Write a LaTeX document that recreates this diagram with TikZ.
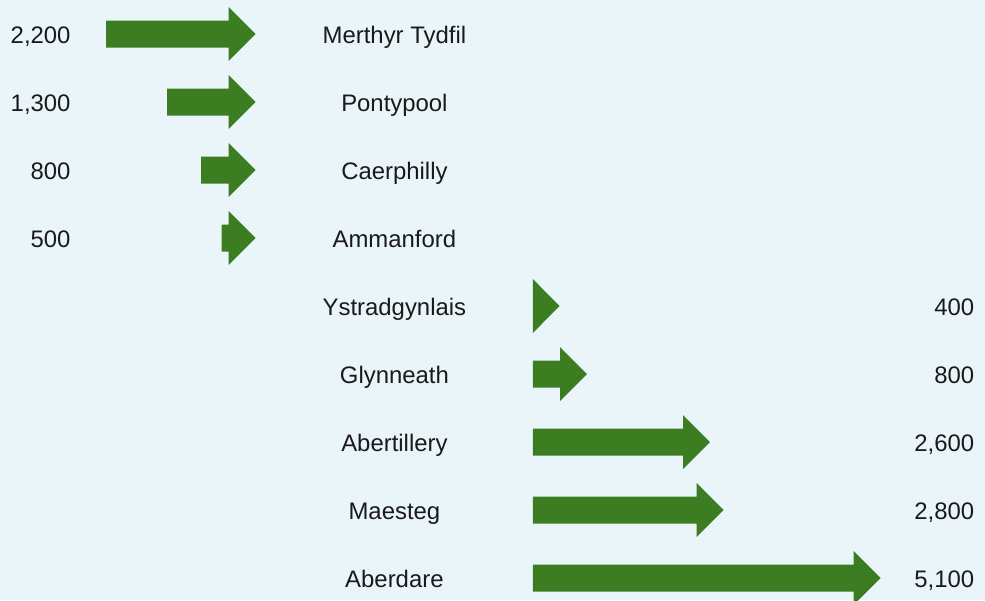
\documentclass[tikz,border=0pt]{standalone}
\usepackage{fontspec}
\setmainfont{Liberation Sans}
\definecolor{vert}{RGB}{61,125,34}
\definecolor{bleuclair}{RGB}{234,245,250}
\definecolor{texte}{RGB}{26,26,26}

\begin{document}
\begin{tikzpicture}

% définition des styles
\tikzstyle{ville}=[font=\fontsize{17}{20}\selectfont,text=texte,anchor=base,inner sep=0pt]
\tikzstyle{nombre}=[font=\fontsize{17}{20}\selectfont,text=texte,anchor=base east,inner sep=0pt]
\tikzstyle{bloc}=[fill=vert,draw=none]

% le fond
\fill[bleuclair] (0cm,0cm) rectangle (24.625cm,-15cm);
\useasboundingbox (0cm,0cm) rectangle (24.625cm,-15cm);
\clip (0cm,0cm) rectangle (24.625cm,-15cm);

% les villes
\node [ville] (v1) at (9.86cm,-1.08cm) {Merthyr Tydfil};
\node [ville] (v2) at (9.86cm,-2.78cm) {Pontypool};
\node [ville] (v3) at (9.86cm,-4.48cm) {Caerphilly};
\node [ville] (v4) at (9.86cm,-6.18cm) {Ammanford};
\node [ville] (v5) at (9.86cm,-7.88cm) {Ystradgynlais};
\node [ville] (v6) at (9.86cm,-9.58cm) {Glynneath};
\node [ville] (v7) at (9.86cm,-11.28cm) {Abertillery};
\node [ville] (v8) at (9.86cm,-12.98cm) {Maesteg};
\node [ville] (v9) at (9.86cm,-14.68cm) {Aberdare};

% les nombres
\node [nombre] (n1) at (1.77cm,-1.08cm) {2,200};
\node [nombre] (n2) at (1.77cm,-2.78cm) {1,300};
\node [nombre] (n3) at (1.77cm,-4.48cm) {800};
\node [nombre] (n4) at (1.77cm,-6.18cm) {500};
\node [nombre] (n5) at (24.36cm,-7.88cm) {400};
\node [nombre] (n6) at (24.36cm,-9.58cm) {800};
\node [nombre] (n7) at (24.36cm,-11.28cm) {2,600};
\node [nombre] (n8) at (24.36cm,-12.98cm) {2,800};
\node [nombre] (n9) at (24.36cm,-14.68cm) {5,100};

% les flèches de gauche
\fill[bloc] (2.65cm,-0.5125cm) -- (5.715cm,-0.5125cm) -- (5.715cm,-0.175cm) -- (6.39cm,-0.85cm) -- (5.715cm,-1.525cm) -- (5.715cm,-1.1875cm) -- (2.65cm,-1.1875cm) -- cycle;
\fill[bloc] (4.18cm,-2.2125cm) -- (5.715cm,-2.2125cm) -- (5.715cm,-1.875cm) -- (6.39cm,-2.55cm) -- (5.715cm,-3.225cm) -- (5.715cm,-2.8875cm) -- (4.18cm,-2.8875cm) -- cycle;
\fill[bloc] (5.03cm,-3.9125cm) -- (5.715cm,-3.9125cm) -- (5.715cm,-3.575cm) -- (6.39cm,-4.25cm) -- (5.715cm,-4.925cm) -- (5.715cm,-4.5875cm) -- (5.03cm,-4.5875cm) -- cycle;
\fill[bloc] (5.54cm,-5.6125cm) -- (5.715cm,-5.6125cm) -- (5.715cm,-5.275cm) -- (6.39cm,-5.95cm) -- (5.715cm,-6.625cm) -- (5.715cm,-6.2875cm) -- (5.54cm,-6.2875cm) -- cycle;

% les flèches de droite
\fill[bloc] (13.32cm,-6.975cm) -- (13.99cm,-7.65cm) -- (13.32cm,-8.325cm) -- cycle;
\fill[bloc] (13.32cm,-9.0125cm) -- (14.0cm,-9.0125cm) -- (14.0cm,-8.675cm) -- (14.675cm,-9.35cm) -- (14.0cm,-10.025cm) -- (14.0cm,-9.6875cm) -- (13.32cm,-9.6875cm) -- cycle;
\fill[bloc] (13.32cm,-10.7125cm) -- (17.075cm,-10.7125cm) -- (17.075cm,-10.375cm) -- (17.75cm,-11.05cm) -- (17.075cm,-11.725cm) -- (17.075cm,-11.3875cm) -- (13.32cm,-11.3875cm) -- cycle;
\fill[bloc] (13.32cm,-12.4125cm) -- (17.415cm,-12.4125cm) -- (17.415cm,-12.075cm) -- (18.09cm,-12.75cm) -- (17.415cm,-13.425cm) -- (17.415cm,-13.0875cm) -- (13.32cm,-13.0875cm) -- cycle;
\fill[bloc] (13.32cm,-14.1125cm) -- (21.34cm,-14.1125cm) -- (21.34cm,-13.775cm) -- (22.015cm,-14.45cm) -- (21.34cm,-15.125cm) -- (21.34cm,-14.7875cm) -- (13.32cm,-14.7875cm) -- cycle;

\end{tikzpicture}
\end{document}
